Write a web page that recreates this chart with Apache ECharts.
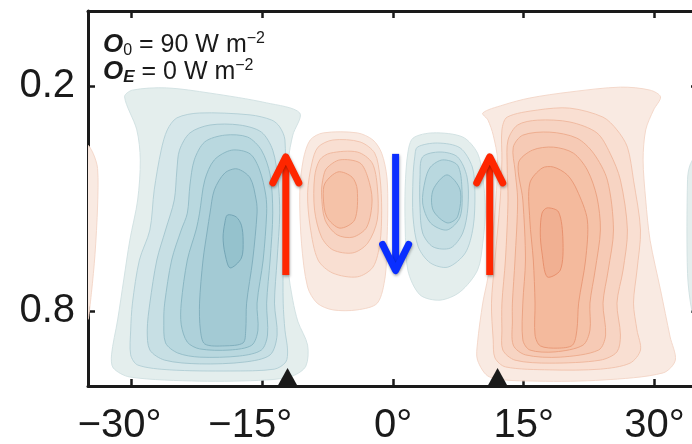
<!DOCTYPE html>
<html>
<head>
<meta charset="utf-8">
<script src="https://cdn.jsdelivr.net/npm/echarts@6/dist/echarts.min.js"></script>
<style>
  html, body { margin: 0; padding: 0; background: #ffffff; }
  #chart { width: 692px; height: 444px; }
</style>
</head>
<body>
<div id="chart"></div>
<script>
// Axis ticks
const latTicks = [-30, -15, 0, 15, 30];
const sigmaTicks = [0.2, 0.8];

// Mass streamfunction contours, outermost level first, as [latitude, sigma] rings.
// Southern Hadley cell (negative)
const southCell = [
  [[-30.8,0.229],[-29.4,0.317],[-29.0,0.397],[-29.3,0.504],[-30.2,0.611],[-30.9,0.717],[-31.6,0.824],[-32.3,0.917],[-32.1,0.952],[-30.2,0.976],[-22.2,0.987],[-14.5,0.984],[-11.5,0.973],[-10.0,0.947],[-9.8,0.891],[-10.9,0.829],[-11.5,0.771],[-12.0,0.691],[-12.1,0.504],[-12.0,0.397],[-11.5,0.331],[-10.7,0.272],[-14.5,0.245],[-21.0,0.219],[-26.0,0.205],[-29.9,0.211]],
  [[-25.9,0.317],[-24.8,0.285],[-22.2,0.272],[-16.4,0.277],[-13.9,0.291],[-13.0,0.309],[-12.4,0.344],[-12.4,0.539],[-12.6,0.664],[-12.6,0.779],[-12.4,0.851],[-12.1,0.904],[-12.3,0.936],[-13.6,0.955],[-18.7,0.960],[-25.6,0.957],[-29.3,0.944],[-30.1,0.917],[-30.1,0.851],[-29.9,0.779],[-29.1,0.664],[-27.9,0.584],[-27.4,0.477],[-26.6,0.371]],
  [[-24.5,0.371],[-23.3,0.325],[-21.0,0.304],[-17.6,0.304],[-15.1,0.323],[-13.8,0.371],[-13.2,0.451],[-13.0,0.539],[-13.3,0.664],[-13.6,0.779],[-13.3,0.864],[-14.1,0.917],[-17.0,0.936],[-22.2,0.941],[-26.2,0.931],[-27.9,0.904],[-28.2,0.851],[-27.9,0.779],[-27.1,0.664],[-26.1,0.584],[-25.1,0.504],[-24.8,0.424]],
  [[-22.8,0.397],[-21.6,0.349],[-19.3,0.331],[-16.7,0.336],[-15.1,0.371],[-14.1,0.437],[-13.8,0.539],[-14.1,0.664],[-14.5,0.779],[-14.4,0.864],[-15.1,0.904],[-17.6,0.920],[-22.2,0.923],[-24.7,0.912],[-26.1,0.885],[-26.3,0.824],[-26.2,0.779],[-25.4,0.664],[-24.3,0.584],[-23.6,0.539],[-23.3,0.464]],
  [[-21.6,0.451],[-20.5,0.397],[-18.5,0.371],[-16.4,0.381],[-15.3,0.424],[-14.6,0.491],[-14.5,0.539],[-14.9,0.664],[-15.6,0.779],[-15.5,0.851],[-16.2,0.891],[-18.7,0.904],[-22.2,0.901],[-23.6,0.883],[-24.3,0.837],[-24.3,0.779],[-23.6,0.664],[-22.6,0.584],[-22.2,0.539]],
  [[-20.5,0.477],[-19.3,0.432],[-17.9,0.421],[-16.4,0.445],[-15.7,0.504],[-15.6,0.539],[-16.1,0.664],[-16.8,0.779],[-16.9,0.851],[-17.2,0.885],[-19.3,0.893],[-21.6,0.888],[-22.1,0.851],[-22.2,0.779],[-21.8,0.664],[-21.3,0.584],[-21.0,0.539]],
  [[-19.0,0.544],[-18.0,0.549],[-17.4,0.571],[-17.2,0.611],[-17.4,0.659],[-18.7,0.685],[-19.3,0.645],[-19.5,0.603],[-19.3,0.565]]
];

// Northern Hadley cell (positive)
const northCell = [
  [[10.3,0.272],[12.6,0.251],[15.7,0.232],[20.3,0.216],[26.1,0.203],[29.5,0.211],[30.7,0.229],[29.9,0.264],[29.0,0.317],[28.7,0.397],[29.0,0.504],[29.5,0.611],[30.7,0.744],[31.8,0.869],[32.4,0.931],[31.0,0.965],[24.1,0.984],[16.6,0.987],[11.1,0.976],[9.7,0.931],[9.7,0.885],[10.3,0.779],[10.9,0.709],[11.4,0.611],[11.8,0.504],[12.0,0.397],[11.5,0.331],[10.9,0.291]],
  [[12.5,0.317],[13.1,0.283],[16.6,0.264],[20.3,0.259],[24.1,0.283],[25.7,0.317],[26.9,0.363],[27.6,0.451],[28.4,0.584],[28.0,0.691],[27.6,0.779],[28.0,0.851],[28.4,0.904],[27.2,0.939],[23.8,0.955],[18.0,0.957],[12.9,0.949],[11.7,0.925],[11.5,0.877],[11.3,0.779],[11.7,0.664],[12.3,0.504],[12.5,0.397]],
  [[13.2,0.344],[14.3,0.304],[16.6,0.291],[20.3,0.296],[23.4,0.325],[24.9,0.379],[26.1,0.451],[26.9,0.584],[26.4,0.691],[25.7,0.779],[26.1,0.864],[25.7,0.909],[23.8,0.931],[18.0,0.939],[14.0,0.931],[12.6,0.904],[12.5,0.851],[12.5,0.779],[12.9,0.664],[13.2,0.504],[13.1,0.411]],
  [[13.8,0.363],[14.9,0.331],[18.0,0.323],[21.1,0.339],[23.0,0.379],[24.6,0.451],[25.3,0.584],[24.7,0.691],[24.1,0.779],[24.4,0.864],[23.6,0.904],[19.2,0.923],[15.2,0.917],[13.8,0.891],[13.7,0.824],[13.7,0.779],[14.0,0.664],[14.3,0.504],[14.0,0.424]],
  [[14.4,0.405],[16.0,0.371],[18.4,0.363],[20.7,0.379],[22.3,0.424],[23.4,0.496],[23.8,0.584],[23.2,0.691],[22.6,0.779],[22.6,0.851],[21.8,0.891],[18.6,0.909],[15.7,0.904],[14.9,0.877],[14.9,0.779],[15.2,0.664],[14.9,0.504]],
  [[15.7,0.459],[17.1,0.419],[18.4,0.416],[20.0,0.437],[21.1,0.477],[22.3,0.557],[22.1,0.664],[21.3,0.779],[21.1,0.851],[20.6,0.891],[18.9,0.899],[16.9,0.893],[16.3,0.864],[16.3,0.779],[16.1,0.664],[15.7,0.557]],
  [[17.1,0.539],[17.7,0.525],[19.0,0.536],[19.5,0.611],[19.2,0.691],[17.7,0.709],[17.1,0.645],[16.9,0.592]]
];

// Equatorial cell just south of the equator (positive)
const eqWestCell = [
  [[-8.0,0.325],[-4.1,0.325],[-2.3,0.344],[-1.3,0.379],[-0.7,0.443],[-0.6,0.531],[-0.7,0.619],[-0.9,0.709],[-1.8,0.779],[-4.1,0.797],[-6.9,0.797],[-8.7,0.779],[-9.8,0.736],[-10.5,0.619],[-10.7,0.485],[-10.3,0.397],[-9.5,0.344]],
  [[-6.9,0.344],[-3.8,0.349],[-2.1,0.379],[-1.5,0.443],[-1.3,0.531],[-1.5,0.619],[-2.3,0.683],[-4.1,0.709],[-6.9,0.699],[-8.6,0.664],[-9.5,0.576],[-9.8,0.485],[-9.3,0.405],[-8.6,0.363]],
  [[-7.2,0.379],[-4.1,0.376],[-2.4,0.405],[-1.8,0.469],[-1.8,0.557],[-2.9,0.619],[-4.6,0.645],[-6.9,0.637],[-8.2,0.603],[-9.0,0.531],[-9.0,0.443],[-8.4,0.397]],
  [[-7.6,0.419],[-6.1,0.397],[-3.8,0.405],[-2.9,0.443],[-2.4,0.504],[-3.0,0.576],[-4.6,0.603],[-6.4,0.597],[-7.8,0.557],[-8.2,0.485],[-8.0,0.443]],
  [[-7.8,0.459],[-6.3,0.429],[-4.7,0.443],[-4.1,0.477],[-4.4,0.557],[-6.1,0.579],[-7.6,0.549],[-8.0,0.496]]
];

// Equatorial cell just north of the equator (negative)
const eqEastCell = [
  [[2.3,0.339],[4.6,0.325],[8.0,0.336],[9.7,0.379],[10.3,0.443],[10.6,0.531],[10.3,0.619],[9.7,0.691],[7.7,0.749],[5.4,0.771],[3.1,0.757],[1.7,0.691],[1.4,0.576],[1.4,0.469],[1.7,0.379]],
  [[2.8,0.363],[5.1,0.352],[7.7,0.365],[9.1,0.416],[9.4,0.485],[9.2,0.576],[8.3,0.645],[6.3,0.683],[4.3,0.672],[2.9,0.629],[2.3,0.549],[2.3,0.443],[2.5,0.389]],
  [[3.4,0.389],[5.4,0.376],[7.4,0.389],[8.5,0.443],[8.6,0.523],[8.0,0.592],[6.6,0.632],[4.6,0.629],[3.4,0.592],[3.1,0.523],[3.1,0.443]],
  [[4.3,0.416],[5.7,0.397],[7.4,0.411],[7.9,0.469],[7.7,0.549],[6.2,0.584],[4.3,0.565],[3.4,0.512],[3.7,0.451]],
  [[4.6,0.477],[6.2,0.437],[7.7,0.477],[7.4,0.549],[6.2,0.565],[4.6,0.531]]
];

// Weak cells at the domain edges
const westEdge = [
  [[-35,0.36],[-34.4,0.38],[-33.9,0.42],[-33.9,0.52],[-34.2,0.65],[-34.6,0.75],[-35,0.82]]
];
const eastEdge = [
  [[35,0.38],[34.1,0.41],[33.8,0.45],[33.8,0.70],[34.3,0.80],[35,0.84]]
];

// Vertical motion arrows: latitude, start sigma, end sigma
const arrowLat = [-12.3, 0.3, 11.1];
const arrowFrom = [0.704, 0.381, 0.704];
const arrowTo = [0.389, 0.692, 0.389];

// Latitudes marked on the lower axis
const markLat = [-12.1, 12.0];

const FONT = "'Liberation Sans', Arial, Helvetica, sans-serif";
const INK = '#1a1a1a';

const blueFill = ['#e4eeed', '#d6e7ea', '#c7dfe4', '#b9d8df', '#aed1da', '#a3cad4', '#95c2cd'];
const blueLine = ['#cfe0e1', '#b1ced5', '#a1c4cd', '#92bbc6', '#86b3bf', '#7dacba', '#6fa2b2'];
const redFill  = ['#f9eae2', '#f9dfd2', '#f7d4c3', '#f6cab5', '#f5c2a8', '#f4ba9d', '#f1b092'];
const redLine  = ['#f3d5c6', '#f0c2ac', '#eeb59b', '#eca98a', '#ea9f7e', '#e89674', '#e68c69'];

function contourSeries(rings, fills, lines) {
  return {
    type: 'custom',
    silent: true,
    clip: true,
    z: 2,
    data: rings.map(r => r[0]),
    renderItem: (params, api) => {
      const ring = rings[params.dataIndex];
      return {
        type: 'polygon',
        shape: { points: ring.map(p => api.coord(p)), smooth: 0.3 },
        style: { fill: fills[params.dataIndex], stroke: lines[params.dataIndex], lineWidth: 0.9 }
      };
    }
  };
}

const arrowSeries = {
  type: 'custom',
  silent: true,
  z: 5,
  data: arrowLat.map((lat, i) => [lat, arrowFrom[i], arrowTo[i]]),
  renderItem: (params, api) => {
    const lat = api.value(0);
    const a = api.coord([lat, api.value(1)]);
    const b = api.coord([lat, api.value(2)]);
    const dir = b[1] > a[1] ? 1 : -1;
    const color = dir < 0 ? '#ff2600' : '#0a2eff';
    const shadow = { shadowColor: 'rgba(0,0,0,0.35)', shadowBlur: 3, shadowOffsetX: 0.5, shadowOffsetY: 1.5 };
    return {
      type: 'group',
      children: [
        {
          type: 'line',
          shape: { x1: a[0], y1: a[1], x2: b[0], y2: b[1] - dir * 2 },
          style: Object.assign({ stroke: color, lineWidth: 7, lineCap: 'butt' }, shadow)
        },
        {
          type: 'polyline',
          shape: { points: [[b[0] - 13, b[1] - dir * 26], [b[0], b[1]], [b[0] + 13, b[1] - dir * 26]] },
          style: Object.assign({ stroke: color, fill: null, lineWidth: 7, lineCap: 'round', lineJoin: 'round' }, shadow)
        }
      ]
    };
  }
};

const axisLineStyle = { color: INK, width: 3 };
const tickStyle = { color: INK, width: 2.5 };

function latLabel(v) {
  return v < 0 ? '{neg|\u2212' + (-v) + '\u00b0}' : v + '\u00b0';
}

const chart = echarts.init(document.getElementById('chart'), null, { renderer: 'canvas' });
chart.setOption({
  animation: false,
  backgroundColor: '#ffffff',
  grid: { left: 88, top: 11, width: 610, height: 375, containLabel: false, outerBoundsMode: 'none' },
  xAxis: [
    {
      type: 'value', min: -35, max: 35, position: 'bottom',
      splitLine: { show: false },
      axisLine: { onZero: false, lineStyle: axisLineStyle },
      axisTick: { inside: true, length: 7, customValues: latTicks, lineStyle: tickStyle },
      axisLabel: {
        customValues: latTicks, formatter: latLabel, margin: 20, hideOverlap: false,
        fontSize: 40, fontFamily: FONT, color: INK,
        rich: { neg: { fontSize: 40, fontFamily: FONT, color: INK, padding: [0, 24, 0, 0] } }
      }
    },
    {
      type: 'value', min: -35, max: 35, position: 'top',
      splitLine: { show: false },
      axisLine: { onZero: false, lineStyle: axisLineStyle },
      axisTick: { inside: true, length: 7, customValues: latTicks, lineStyle: tickStyle },
      axisLabel: { show: false }
    }
  ],
  yAxis: [
    {
      type: 'value', min: 0, max: 1, inverse: true, position: 'left',
      splitLine: { show: false },
      axisLine: { onZero: false, lineStyle: axisLineStyle },
      axisTick: { inside: true, length: 7, customValues: sigmaTicks, lineStyle: tickStyle },
      axisLabel: {
        customValues: sigmaTicks, formatter: v => v.toFixed(1), margin: 13,
        fontSize: 40, fontFamily: FONT, color: INK
      }
    },
    {
      type: 'value', min: 0, max: 1, inverse: true, position: 'right',
      splitLine: { show: false },
      axisLine: { onZero: false, lineStyle: axisLineStyle },
      axisTick: { inside: true, length: 7, customValues: sigmaTicks, lineStyle: tickStyle },
      axisLabel: { show: false }
    }
  ],
  graphic: [
    {
      type: 'text', left: 103, top: 31, z: 10,
      style: {
        text: '{o|O}{s|0}{t| = 90 W m}{p|\u22122}',
        rich: {
          o: { fontSize: 26, fontWeight: 'bold', fontStyle: 'italic', fontFamily: FONT, fill: INK, lineHeight: 28 },
          s: { fontSize: 16, fontFamily: FONT, fill: INK, lineHeight: 10, verticalAlign: 'bottom' },
          t: { fontSize: 25, fontFamily: FONT, fill: INK, lineHeight: 28 },
          p: { fontSize: 16, fontFamily: FONT, fill: INK, lineHeight: 10, verticalAlign: 'top' }
        }
      }
    },
    {
      type: 'text', left: 103, top: 58, z: 10,
      style: {
        text: '{o|O}{s|E}{t| = 0 W m}{p|\u22122}',
        rich: {
          o: { fontSize: 26, fontWeight: 'bold', fontStyle: 'italic', fontFamily: FONT, fill: INK, lineHeight: 28 },
          s: { fontSize: 17, fontWeight: 'bold', fontStyle: 'italic', fontFamily: FONT, fill: INK, lineHeight: 10, verticalAlign: 'bottom' },
          t: { fontSize: 25, fontFamily: FONT, fill: INK, lineHeight: 28 },
          p: { fontSize: 16, fontFamily: FONT, fill: INK, lineHeight: 10, verticalAlign: 'top' }
        }
      }
    }
  ],
  series: [
    contourSeries(westEdge, redFill, redLine),
    contourSeries(eastEdge, blueFill, blueLine),
    contourSeries(southCell, blueFill, blueLine),
    contourSeries(northCell, redFill, redLine),
    contourSeries(eqWestCell, redFill, redLine),
    contourSeries(eqEastCell, blueFill, blueLine),
    arrowSeries,
    {
      type: 'scatter', clip: false, silent: true, z: 6,
      data: markLat.map(lat => [lat, 1]),
      symbol: 'triangle', symbolSize: [20, 18], symbolOffset: [0, -9],
      itemStyle: { color: INK, opacity: 1 }
    }
  ]
});
</script>
</body>
</html>
